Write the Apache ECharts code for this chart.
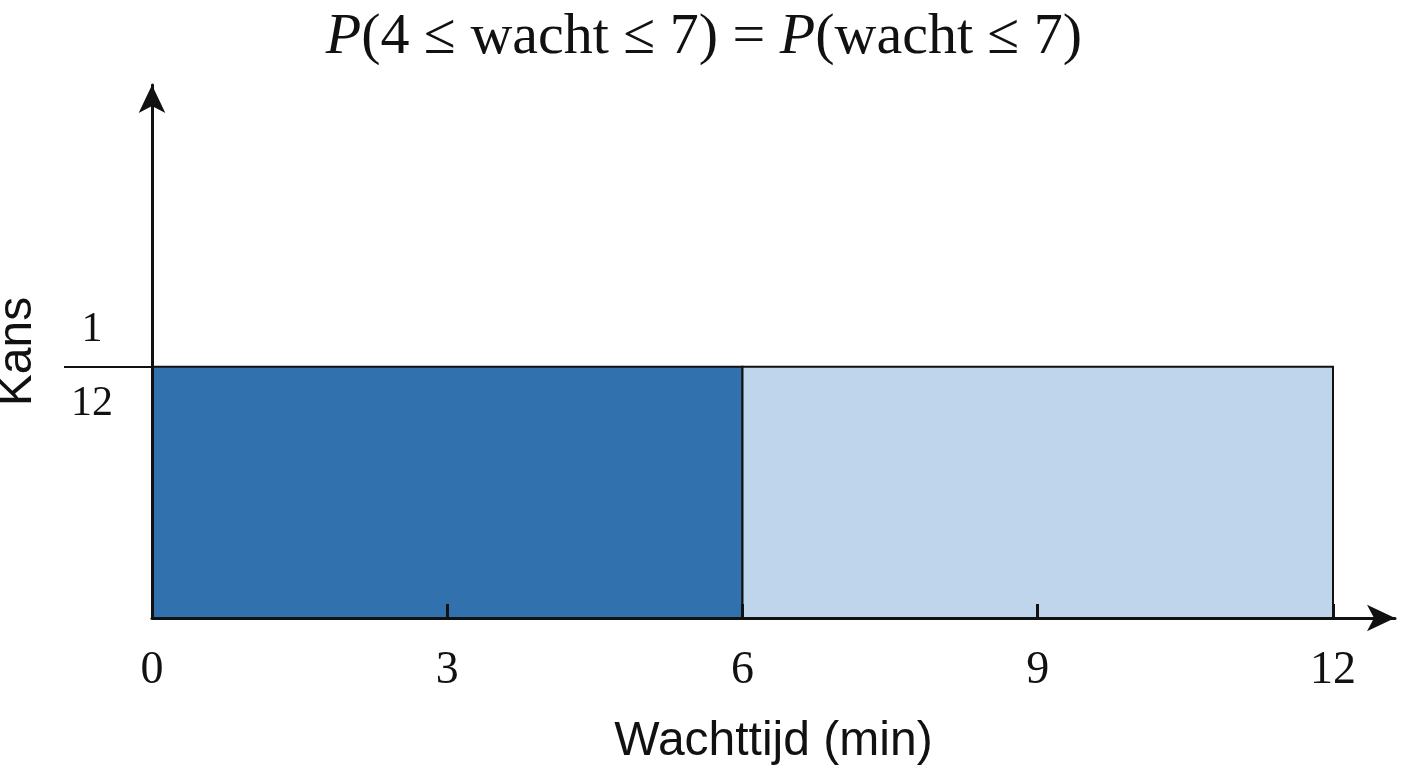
<!DOCTYPE html>
<html>
<head>
<meta charset="utf-8">
<script src="https://cdn.jsdelivr.net/npm/echarts@6/dist/echarts.min.js"></script>
<style>
  html, body { margin: 0; padding: 0; background: #fff; }
  #chart { width: 1408px; height: 768px; }
</style>
</head>
<body>
<div id="chart"></div>
<script>
// uniforme verdeling van de wachttijd
const segStart = [0, 6]
const segEnd = [6, 12]
const density = [1 / 12, 1 / 12]
const segColors = ['#3171ad', '#bed5eb']
const xTicks = [0, 3, 6, 9, 12]

const chart = echarts.init(document.getElementById('chart'))
const serif = '"Liberation Serif", "DejaVu Serif", serif'
const sans = '"Liberation Sans", Arial, sans-serif'

const option = {
  animation: false,
  title: {
    text: '{i|P}(4 ≤ wacht ≤ 7) = {i|P}(wacht ≤ 7)',
    left: 'center',
    top: 4,
    textStyle: {
      fontFamily: serif, fontSize: 58, fontWeight: 'normal', color: '#111',
      rich: { i: { fontFamily: serif, fontSize: 58, fontStyle: 'italic', color: '#111' } }
    }
  },
  grid: { left: 152, right: 13, top: 85, bottom: 150, outerBoundsMode: 'none', containLabel: false },
  xAxis: {
    type: 'value',
    min: 0,
    max: 12.63,
    interval: 3,
    z: 10,
    name: 'Wachttijd (min)',
    nameLocation: 'middle',
    nameGap: 100,
    nameTextStyle: { fontFamily: sans, fontSize: 48, color: '#111' },
    splitLine: { show: false },
    axisLine: { lineStyle: { color: '#111', width: 3 }, symbol: ['none', 'arrow'], symbolSize: [20, 28] },
    axisTick: { inside: true, length: 14, lineStyle: { color: '#111', width: 3 }, customValues: xTicks },
    axisLabel: { fontFamily: serif, fontSize: 46, color: '#111', margin: 30, customValues: xTicks }
  },
  yAxis: {
    type: 'value',
    min: 0,
    max: 0.1768,
    z: 10,
    name: 'Kans',
    nameLocation: 'middle',
    nameGap: 110,
    nameRotate: 90,
    nameTextStyle: { fontFamily: sans, fontSize: 48, color: '#111' },
    splitLine: { show: false },
    axisLine: { lineStyle: { color: '#111', width: 3 }, symbol: ['none', 'arrow'], symbolSize: [20, 28] },
    axisTick: { length: 88, lineStyle: { color: '#111', width: 2 }, customValues: [1 / 12] },
    axisLabel: {
      margin: 30,
      customValues: [1 / 12],
      formatter: () => '{a|1}\n{b|12}',
      rich: {
        a: { fontFamily: serif, fontSize: 42, color: '#111', lineHeight: 74, align: 'center', width: 60 },
        b: { fontFamily: serif, fontSize: 42, color: '#111', lineHeight: 74, align: 'center', width: 60 }
      }
    }
  },
  series: [{
    type: 'custom',
    z: 1,
    data: segStart.map((s, i) => [s, segEnd[i], density[i]]),
    renderItem: (params, api) => {
      const p0 = api.coord([api.value(0), api.value(2)])
      const p1 = api.coord([api.value(1), 0])
      return {
        type: 'rect',
        shape: { x: p0[0], y: p0[1], width: p1[0] - p0[0], height: p1[1] - p0[1] },
        style: { fill: segColors[params.dataIndex], stroke: '#111', lineWidth: 2 }
      }
    }
  }]
}
chart.setOption(option)
</script>
</body>
</html>
